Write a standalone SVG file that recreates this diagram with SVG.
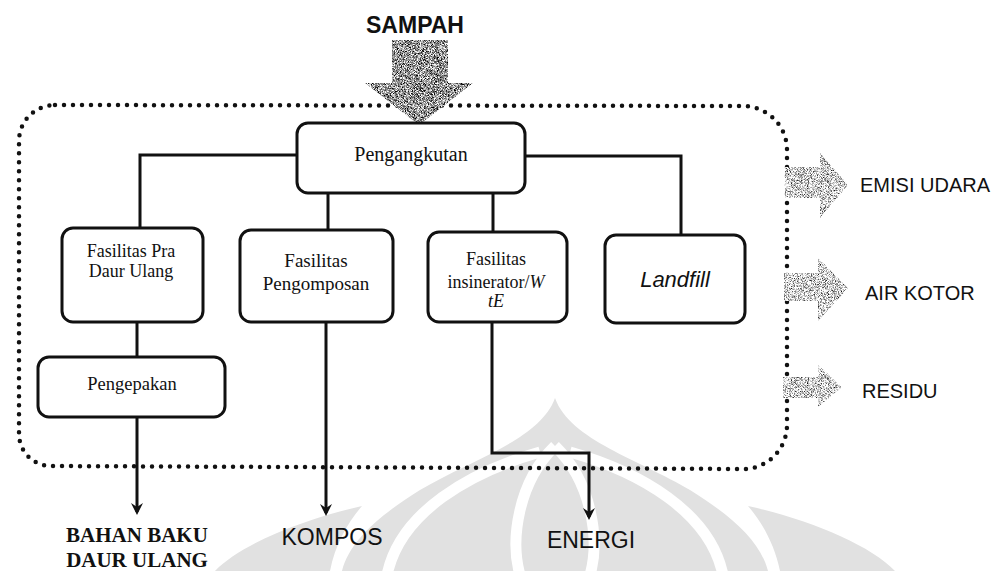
<svg xmlns="http://www.w3.org/2000/svg" width="998" height="571" viewBox="0 0 998 571">
  <defs>
    <style>
      .box { fill: #ffffff; stroke: #111111; stroke-width: 3; }
      .wire { fill: none; stroke: #111111; stroke-width: 3; stroke-linejoin: miter; }
      .serif { font-family: "Liberation Serif", "Times New Roman", serif; fill: #111111; }
      .sans { font-family: "Liberation Sans", Arial, sans-serif; fill: #111111; }
      .mid { text-anchor: middle; }
      .mark { fill: #e1e1e1; }
      .gap { fill: none; stroke: #ffffff; stroke-width: 11; }
    </style>
    <marker id="ah" viewBox="0 0 12 12" refX="9" refY="6" markerWidth="12" markerHeight="12" orient="auto" markerUnits="userSpaceOnUse">
      <path d="M0,0 L12,6 L0,12 L4,6 Z" fill="#111111"/>
    </marker>
    <!-- speckled grey fill for the block arrows -->
    <filter id="grainDark" x="0" y="0" width="1" height="1" color-interpolation-filters="sRGB">
      <feTurbulence type="fractalNoise" baseFrequency="1.3" numOctaves="2" seed="4" result="n"/>
      <feColorMatrix in="n" type="matrix" values="1 0 0 0 0  1 0 0 0 0  1 0 0 0 0  0 0 0 0 1" result="g"/>
      <feComponentTransfer in="g" result="c">
        <feFuncR type="linear" slope="2.4" intercept="-0.62"/>
        <feFuncG type="linear" slope="2.4" intercept="-0.62"/>
        <feFuncB type="linear" slope="2.4" intercept="-0.62"/>
      </feComponentTransfer>
      <feComposite in="c" in2="SourceGraphic" operator="in"/>
    </filter>
    <filter id="grainLight" x="0" y="0" width="1" height="1" color-interpolation-filters="sRGB">
      <feTurbulence type="fractalNoise" baseFrequency="1.3" numOctaves="2" seed="9" result="n"/>
      <feColorMatrix in="n" type="matrix" values="1 0 0 0 0  1 0 0 0 0  1 0 0 0 0  0 0 0 0 1" result="g"/>
      <feComponentTransfer in="g" result="c">
        <feFuncR type="linear" slope="2.2" intercept="-0.28"/>
        <feFuncG type="linear" slope="2.2" intercept="-0.28"/>
        <feFuncB type="linear" slope="2.2" intercept="-0.28"/>
      </feComponentTransfer>
      <feComposite in="c" in2="SourceGraphic" operator="in"/>
    </filter>
  </defs>

  <rect x="0" y="0" width="998" height="571" fill="#ffffff"/>

  <!-- faint emblem in the background -->
  <g id="emblem">
    <path class="mark" d="M362,506 C300,520 240,545 215,571 L330,571 C335,545 348,522 362,506 Z"/>
    <path class="mark" d="M748,506 C810,520 870,545 895,571 L780,571 C775,545 762,522 748,506 Z"/>
    <path class="mark" d="M555,398 C540,440 470,460 420,490 C380,515 350,540 342,571 L768,571 C760,540 730,515 690,490 C640,460 570,440 555,398 Z"/>
    <path class="gap" d="M540,452 C470,472 400,512 387,575"/>
    <path class="gap" d="M570,452 C640,472 710,512 723,575"/>
    <path class="gap" d="M555,446 C518,482 510,540 520,575"/>
    <path class="gap" d="M555,446 C592,482 600,540 590,575"/>
  </g>

  <!-- dotted system boundary -->
  <path id="boundary" d="M55,105 L743,106 A44,44 0 0 1 787,150 L787,425 A44,44 0 0 1 743,469 L51,466 A32,32 0 0 1 19,434 L19,141 A36,36 0 0 1 55,105 Z"
        fill="none" stroke="#111111" stroke-width="4.5" stroke-linecap="round" stroke-dasharray="0 9"/>

  <!-- input -->
  <g id="sampah">
    <text class="sans mid" x="415" y="33" font-size="23" font-weight="bold">SAMPAH</text>
    <path d="M392,40 L448,40 L448,83 L473,83 L419,125 L365,83 L392,83 Z" fill="#808080" filter="url(#grainDark)"/>
  </g>

  <!-- connectors -->
  <g id="connectors">
    <path class="wire" d="M297,155 L140,155 L140,228"/>
    <path class="wire" d="M328,193 L328,230"/>
    <path class="wire" d="M493,193 L493,232"/>
    <path class="wire" d="M525,156 L681,156 L681,235"/>
    <path class="wire" d="M137,322 L137,357"/>
    <path class="wire" d="M137,417 L137,512" marker-end="url(#ah)"/>
    <path class="wire" d="M326,322 L326,513" marker-end="url(#ah)"/>
    <path class="wire" d="M492,322 L492,453 L589,453 L589,517" marker-end="url(#ah)"/>
  </g>

  <g id="pengangkutan">
    <rect class="box" x="297" y="123" width="228" height="70" rx="11"/>
    <text class="serif mid" x="411" y="161" font-size="20">Pengangkutan</text>
  </g>

  <g id="pra-daur-ulang">
    <rect class="box" x="62" y="228" width="141" height="94" rx="11"/>
    <text class="serif mid" x="131" y="257" font-size="18">Fasilitas Pra</text>
    <text class="serif mid" x="131" y="277" font-size="18">Daur Ulang</text>
  </g>

  <g id="pengomposan">
    <rect class="box" x="240" y="230" width="153" height="92" rx="11"/>
    <text class="serif mid" x="316" y="267" font-size="19">Fasilitas</text>
    <text class="serif mid" x="316" y="290" font-size="19">Pengomposan</text>
  </g>

  <g id="insinerator">
    <rect class="box" x="428" y="232" width="139" height="90" rx="11"/>
    <text class="serif mid" x="496" y="265" font-size="18">Fasilitas</text>
    <text class="serif mid" x="496" y="288" font-size="18">insinerator/<tspan font-style="italic">W</tspan></text>
    <text class="serif mid" x="496" y="307" font-size="18" font-style="italic">tE</text>
  </g>

  <g id="landfill">
    <rect class="box" x="605" y="235" width="140" height="88" rx="11"/>
    <text class="sans mid" x="675" y="287" font-size="22" font-style="italic">Landfill</text>
  </g>

  <g id="pengepakan">
    <rect class="box" x="38" y="357" width="187" height="60" rx="11"/>
    <text class="serif mid" x="132" y="390" font-size="18.5">Pengepakan</text>
  </g>

  <!-- outputs -->
  <g id="bahan-baku">
    <text class="serif mid" x="137" y="542" font-size="21" font-weight="bold">BAHAN BAKU</text>
    <text class="serif mid" x="137" y="567" font-size="21" font-weight="bold">DAUR ULANG</text>
  </g>
  <g id="kompos">
    <text class="sans mid" x="332" y="545" font-size="23">KOMPOS</text>
  </g>
  <g id="energi">
    <text class="sans mid" x="591" y="548" font-size="23">ENERGI</text>
  </g>

  <g id="emisi-udara">
    <path d="M785,167 L820,167 L820,153 L848,185 L820,218 L820,198 L785,198 Z" fill="#b0b0b0" filter="url(#grainLight)"/>
    <text class="sans" x="860" y="192" font-size="20">EMISI UDARA</text>
  </g>
  <g id="air-kotor">
    <path d="M784,273 L818,273 L818,258 L848,288 L818,321 L818,301 L784,301 Z" fill="#b0b0b0" filter="url(#grainLight)"/>
    <text class="sans" x="865" y="300" font-size="20">AIR KOTOR</text>
  </g>
  <g id="residu">
    <path d="M783,377 L818,377 L818,365 L842,387 L818,407 L818,398 L783,398 Z" fill="#b0b0b0" filter="url(#grainLight)"/>
    <text class="sans" x="862" y="398" font-size="20">RESIDU</text>
  </g>
</svg>
